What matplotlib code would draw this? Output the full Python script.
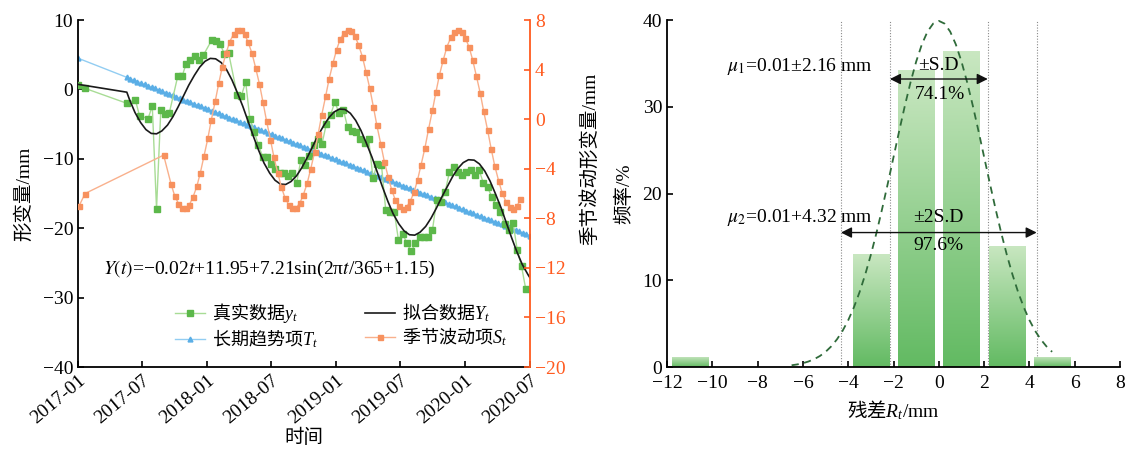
import matplotlib
matplotlib.use('Agg')
import matplotlib.pyplot as plt
import matplotlib.transforms as mtransforms
from matplotlib.font_manager import FontProperties
import numpy as np
from matplotlib.colors import LinearSegmentedColormap

plt.rcParams['font.family'] = ['Liberation Serif', 'Noto Sans CJK SC']
plt.rcParams['mathtext.fontset'] = 'custom'
plt.rcParams['mathtext.rm'] = 'Liberation Serif'
plt.rcParams['mathtext.it'] = 'Liberation Serif:italic'
plt.rcParams['mathtext.sf'] = 'Liberation Serif'
plt.rcParams['font.size'] = 14

# ---- left chart: time axis in days since 2017-01-01 ----
tick_days = [0, 181, 365, 546, 730, 911, 1095, 1277]
tick_labels = ['2017-01', '2017-07', '2018-01', '2018-07', '2019-01', '2019-07', '2020-01', '2020-07']

green_days = [0, 20, 138, 162, 174, 198, 210, 222, 234, 246, 258, 282, 294, 306, 318, 330, 342, 354,
              378, 390, 402, 414, 426, 450, 462, 474, 486, 498, 510, 522, 534, 546, 558, 570, 582, 594,
              606, 618, 630, 642, 654, 666, 678, 690, 702, 714, 726, 738, 750, 762, 774, 786, 798, 810,
              822, 834, 846, 858, 870, 882, 894, 906, 918, 930, 942, 954, 966, 978, 990, 1002, 1014,
              1026, 1038, 1050, 1062, 1074, 1086, 1098, 1110, 1122, 1134, 1146, 1158, 1170, 1182, 1194,
              1206, 1218, 1230, 1242, 1254, 1266]
green_vals = [0.6, 0.15, -2.0, -1.5, -3.8, -4.2, -2.4, -17.2, -3.0, -3.6, -3.4, 1.9, 1.9, 3.7, 4.3, 4.8,
              4.3, 4.9, 7.1, 7.0, 6.5, 5.1, 5.2, -0.8, -0.9, 1.1, -4.3, -6.1, -8.0, -9.7, -9.7, -10.7,
              -11.4, -12.1, -12.0, -12.5, -12.0, -13.5, -10.2, -10.9, -9.6, -8.0, -7.2, -7.8, -5.0, -3.7,
              -1.8, -3.4, -2.9, -5.4, -6.0, -6.1, -7.2, -7.7, -7.2, -12.8, -10.7, -10.9, -17.4, -17.6,
              -17.6, -21.7, -20.8, -22.2, -23.3, -22.2, -21.2, -21.2, -21.2, -20.3, -16.0, -16.2, -14.8,
              -11.9, -11.2, -11.9, -12.4, -11.9, -11.6, -12.4, -11.6, -13.5, -14.1, -15.5, -16.7, -17.6,
              -19.4, -20.2, -19.2, -23.2, -25.5, -28.8]

black_days = [0, 20, 138, 146, 161, 177, 192, 207, 222, 237, 253, 268, 283, 298, 313, 329, 344, 359, 374,
              389, 405, 420, 435, 450, 466, 481, 496, 511, 526, 542, 557, 572, 587, 602, 618, 633, 648,
              663, 678, 694, 709, 724, 739, 755, 770, 785, 800, 815, 831, 846, 861, 876, 891, 907, 922,
              937, 952, 967, 983, 998, 1013, 1028, 1044, 1059, 1074, 1089, 1104, 1120, 1135, 1150, 1165,
              1180, 1196, 1211, 1226, 1241, 1256, 1272, 1278]
black_vals = [0.73, 0.57, -0.4, -1.52, -3.32, -4.77, -5.79, -6.34, -6.40, -5.98, -5.14, -3.96, -2.52,
              -0.96, 0.60, 2.03, 3.21, 4.05, 4.47, 4.41, 3.86, 2.84, 1.39, -0.41, -2.45, -4.61, -6.78,
              -8.82, -10.62, -12.07, -13.09, -13.64, -13.70, -13.28, -12.44, -11.26, -9.82, -8.26, -6.70,
              -5.27, -4.09, -3.25, -2.83, -2.89, -3.44, -4.46, -5.91, -7.71, -9.75, -11.91, -14.08,
              -16.12, -17.92, -19.37, -20.39, -20.94, -21.00, -20.58, -19.74, -18.56, -17.13, -15.57,
              -14.01, -12.57, -11.39, -10.55, -10.13, -10.19, -10.74, -11.76, -13.21, -15.01, -17.05,
              -19.22, -21.38, -23.42, -25.22, -26.67, -27.16]

trend_days = [0, 138, 148, 158, 168, 178, 188, 198, 208, 218, 228, 238, 248, 258, 268, 278, 288, 298,
              308, 318, 328, 338, 348, 358, 368, 378, 388, 398, 408, 418, 428, 438, 448, 458, 468, 478,
              488, 498, 508, 518, 528, 538, 548, 558, 568, 578, 588, 598, 608, 618, 628, 638, 648, 658,
              668, 678, 688, 698, 708, 718, 728, 738, 748, 758, 768, 778, 788, 798, 808, 818, 828, 838,
              848, 858, 868, 878, 888, 898, 908, 918, 928, 938, 948, 958, 968, 978, 988, 998, 1008, 1018,
              1028, 1038, 1048, 1058, 1068, 1078, 1088, 1098, 1108, 1118, 1128, 1138, 1148, 1158, 1168,
              1178, 1188, 1198, 1208, 1218, 1228, 1238, 1248, 1258, 1268, 1278]
trend_vals = [4.5,
              1.74, 1.54, 1.34, 1.14, 0.94, 0.74, 0.54, 0.34, 0.14, -0.06,
              -0.26, -0.46, -0.66, -0.86, -1.06, -1.26, -1.46, -1.66, -1.86, -2.06,
              -2.26, -2.46, -2.66, -2.86, -3.06, -3.26, -3.46, -3.66, -3.86, -4.06,
              -4.26, -4.46, -4.66, -4.86, -5.06, -5.26, -5.46, -5.66, -5.86, -6.06,
              -6.26, -6.46, -6.66, -6.86, -7.06, -7.26, -7.46, -7.66, -7.86, -8.06,
              -8.26, -8.46, -8.66, -8.86, -9.06, -9.26, -9.46, -9.66, -9.86, -10.06,
              -10.26, -10.46, -10.66, -10.86, -11.06, -11.26, -11.46, -11.66, -11.86, -12.06,
              -12.26, -12.46, -12.66, -12.86, -13.06, -13.26, -13.46, -13.66, -13.86, -14.06,
              -14.26, -14.46, -14.66, -14.86, -15.06, -15.26, -15.46, -15.66, -15.86, -16.06,
              -16.26, -16.46, -16.66, -16.86, -17.06, -17.26, -17.46, -17.66, -17.86, -18.06,
              -18.26, -18.46, -18.66, -18.86, -19.06, -19.26, -19.46, -19.66, -19.86, -20.06,
              -20.26, -20.46, -20.66, -20.86, -21.06]

season_days = [3, 20, 242, 263, 273, 284, 294, 304, 315, 325, 336, 346, 356, 367, 377, 388, 398, 408, 419,
               429, 440, 450, 460, 471, 481, 492, 502, 513, 523, 533, 544, 554, 565, 575, 585, 596, 606,
               617, 627, 637, 648, 658, 669, 679, 689, 700, 710, 721, 731, 741, 752, 762, 773, 783, 793,
               804, 814, 825, 835, 845, 856, 866, 877, 887, 897, 908, 918, 929, 939, 950, 960, 970, 981,
               991, 1002, 1012, 1022, 1033, 1043, 1054, 1064, 1074, 1085, 1095, 1106, 1116, 1126, 1137,
               1147, 1158, 1168, 1178, 1189, 1199, 1210, 1220, 1230, 1241, 1251]
season_vals = [-7.0, -6.0, -2.9, -5.23, -6.16, -6.81, -7.15, -7.18, -6.89, -6.30, -5.42, -4.31, -3.00,
               -1.56, -0.05, 1.46, 2.91, 4.23, 5.36, 6.25, 6.87, 7.17, 7.16, 6.84, 6.21, 5.30, 4.16, 2.83,
               1.37, -0.14, -1.65, -3.08, -4.38, -5.48, -6.34, -6.92, -7.19, -7.14, -6.78, -6.11, -5.17,
               -4.00, -2.65, -1.19, 0.33, 1.83, 3.25, 4.53, 5.60, 6.43, 6.97, 7.20, 7.11, 6.71, 6.01,
               5.04, 3.84, 2.48, 1.01, -0.51, -2.01, -3.42, -4.67, -5.72, -6.51, -7.02, -7.21, -7.08,
               -6.64, -5.90, -4.90, -3.68, -2.30, -0.82, 0.70, 2.19, 3.58, 4.81, 5.83, 6.59, 7.06, 7.21,
               7.04, 6.56, 5.79, 4.76, 3.52, 2.13, 0.63, -0.88, -2.37, -3.74, -4.95, -5.94, -6.66, -7.09,
               -7.21, -7.00, -6.48]

# ---- right chart: residual histogram ----
bin_centers = [-11, -9, -7, -5, -3, -1, 1, 3, 5, 7]
freq = [1.2, 0, 0, 0, 13.0, 34.2, 36.4, 14.0, 1.2, 0]
curve_x = [-6.5, -6.25, -6.0, -5.75, -5.5, -5.25, -5.0, -4.75, -4.5, -4.25, -4.0, -3.75, -3.5, -3.25,
           -3.0, -2.75, -2.5, -2.25, -2.0, -1.75, -1.5, -1.25, -1.0, -0.75, -0.5, -0.25, 0.0, 0.25, 0.5,
           0.75, 1.0, 1.25, 1.5, 1.75, 2.0, 2.25, 2.5, 2.75, 3.0, 3.25, 3.5, 3.75, 4.0, 4.25, 4.5, 4.75, 5.0]
curve_y = [0.20, 0.30, 0.44, 0.64, 0.91, 1.27, 1.75, 2.38, 3.18, 4.17, 5.40, 6.88, 8.63, 10.66, 12.95,
           15.50, 18.27, 21.19, 24.20, 27.21, 30.12, 32.82, 35.21, 37.19, 38.67, 39.59, 39.90, 39.59,
           38.67, 37.19, 35.21, 32.82, 30.12, 27.21, 24.20, 21.19, 18.27, 15.50, 12.95, 10.66, 8.63,
           6.88, 5.40, 4.17, 3.18, 2.38, 1.75]
sd_lines = [-4.32, -2.16, 2.16, 4.32]

ORANGE_AX = '#ff5a1f'
# text mixing Chinese and math: the non-math part is drawn with the text's own font
cjk = FontProperties(family='Noto Sans CJK SC', size=14)
cjk_leg = FontProperties(family='Noto Sans CJK SC', size=13)

fig = plt.figure(figsize=(11.34, 4.54), dpi=100)

# ================= left =================
ax = fig.add_axes([0.0688, 0.1916, 0.3986, 0.7643])
ax2 = ax.twinx()

l_green, = ax.plot(green_days, green_vals, color='#a8dc95', lw=1.0, marker='s', ms=4,
                   mfc='#5cb84a', mec='#5cb84a', zorder=3)
l_black, = ax.plot(black_days, black_vals, color='#1a1a1a', lw=1.2, zorder=4)
l_blue, = ax.plot(trend_days, trend_vals, color='#92cdf2', lw=1.0, marker='^', ms=3.5,
                  mfc='#5aaee6', mec='#5aaee6', zorder=2)
l_orange, = ax2.plot(season_days, season_vals, color='#f9b08c', lw=1.0, marker='s', ms=3.6,
                     mfc='#f7915e', mec='#f7915e')

ax.set_xlim(0, 1278)
ax.set_ylim(-40, 10)
ax.set_yticks([-40, -30, -20, -10, 0, 10])
ax2.set_ylim(-20, 8)
ax2.set_yticks([-20, -16, -12, -8, -4, 0, 4, 8])
ax.set_xticks(tick_days)
ax.set_xticklabels(tick_labels, rotation=40, ha='right', rotation_mode='anchor')
shift = mtransforms.ScaledTranslation(5 / 72, -3 / 72, fig.dpi_scale_trans)
for lab in ax.get_xticklabels():
    lab.set_transform(lab.get_transform() + shift)

for a in (ax, ax2):
    a.spines['top'].set_visible(False)
    for s in a.spines.values():
        s.set_linewidth(1.3)
ax.spines['right'].set_visible(False)
ax2.spines['left'].set_visible(False)
ax2.spines['bottom'].set_visible(False)
ax2.spines['right'].set_color(ORANGE_AX)
ax.tick_params(direction='in', length=4, width=1.2, labelsize=14)
ax2.tick_params(axis='y', direction='in', length=4, width=1.2, labelsize=14,
                colors=ORANGE_AX)

ax.set_ylabel('形变量/mm', fontsize=14)
ax.yaxis.set_label_coords(-0.10, 0.5)
ax2.set_ylabel('季节波动形变量/mm', fontsize=14, rotation=90)
ax2.yaxis.set_label_coords(1.111, 0.6)
ax.set_xlabel('时间', fontsize=14)
ax.xaxis.set_label_coords(0.5, -0.178)

ax.text(0.055, 0.28, r'$Y(t)$=−0.02$t$+11.95+7.21sin(2π$t$/365+1.15)',
        transform=ax.transAxes, fontsize=14, va='center', ha='left', math_fontfamily='stix')

ax.legend([l_green, l_blue, l_black, l_orange],
          ['真实数据$y_t$', '长期趋势项$T_t$', '拟合数据$Y_t$', '季节波动项$S_t$'],
          loc='lower left', bbox_to_anchor=(0.215, 0.05), ncol=2, frameon=False,
          prop=cjk_leg, handlelength=1.65, handletextpad=0.4, columnspacing=2.6,
          labelspacing=0.1, borderpad=0, borderaxespad=0, numpoints=1)

# ================= right =================
ax3 = fig.add_axes([0.5882, 0.1916, 0.3995, 0.7643])
cmap = LinearSegmentedColormap.from_list('bar_grad', ['#62ba62', '#c9e7c1'])
grad = np.linspace(0, 1, 256).reshape(-1, 1)
bars = ax3.bar(bin_centers, freq, width=1.6, color='none', edgecolor='none', zorder=2)
for b in bars:
    h = b.get_height()
    if h <= 0:
        continue
    x0 = b.get_x()
    im = ax3.imshow(grad, extent=[x0, x0 + b.get_width(), 0, h], origin='lower', cmap=cmap,
                    aspect='auto', zorder=2)
    im.set_clip_path(b)

ax3.plot(curve_x, curve_y, color='#2f6b3a', lw=1.3, linestyle=(0, (4, 3)), zorder=3)
for xv in sd_lines:
    ax3.axvline(xv, color='#8a8a8a', lw=0.8, linestyle=(0, (1, 1.5)), zorder=1)

ax3.annotate('', xy=(-2.16, 33.2), xytext=(2.16, 33.2),
             arrowprops=dict(arrowstyle='<|-|>', color='#111111', lw=1.0, mutation_scale=16,
                             shrinkA=0, shrinkB=0), zorder=5)
ax3.annotate('', xy=(-4.32, 15.5), xytext=(4.32, 15.5),
             arrowprops=dict(arrowstyle='<|-|>', color='#111111', lw=1.0, mutation_scale=16,
                             shrinkA=0, shrinkB=0), zorder=5)
ax3.text(0.0, 34.7, '±S.D', ha='center', va='center', fontsize=14, zorder=6)
ax3.text(0.05, 31.4, '74.1%', ha='center', va='center', fontsize=14, zorder=6)
ax3.text(0.0, 17.2, '±2S.D', ha='center', va='center', fontsize=14, zorder=6)
ax3.text(0.0, 14.0, '97.6%', ha='center', va='center', fontsize=14, zorder=6)
ax3.text(-9.36, 34.6, r'$\mu_1$=0.01±2.16 mm', ha='left', va='center', fontsize=14, zorder=6,
         math_fontfamily='stix')
ax3.text(-9.36, 17.2, r'$\mu_2$=0.01+4.32 mm', ha='left', va='center', fontsize=14, zorder=6,
         math_fontfamily='stix')

ax3.set_xlim(-12, 8)
ax3.set_ylim(0, 40)
ax3.set_xticks(range(-12, 9, 2))
ax3.set_yticks([0, 10, 20, 30, 40])
ax3.spines['top'].set_visible(False)
ax3.spines['right'].set_visible(False)
for s in ax3.spines.values():
    s.set_linewidth(1.3)
ax3.tick_params(direction='in', length=4, width=1.2, labelsize=14)
ax3.tick_params(axis='x', pad=6)
ax3.set_xlabel(r'残差$R_t\mathsf{/mm}$', fontproperties=cjk)
ax3.xaxis.set_label_coords(0.5, -0.092)
ax3.set_ylabel('频率/%', fontsize=14)
ax3.yaxis.set_label_coords(-0.075, 0.5)

fig.savefig('out.png', dpi=100)
plt.close(fig)
